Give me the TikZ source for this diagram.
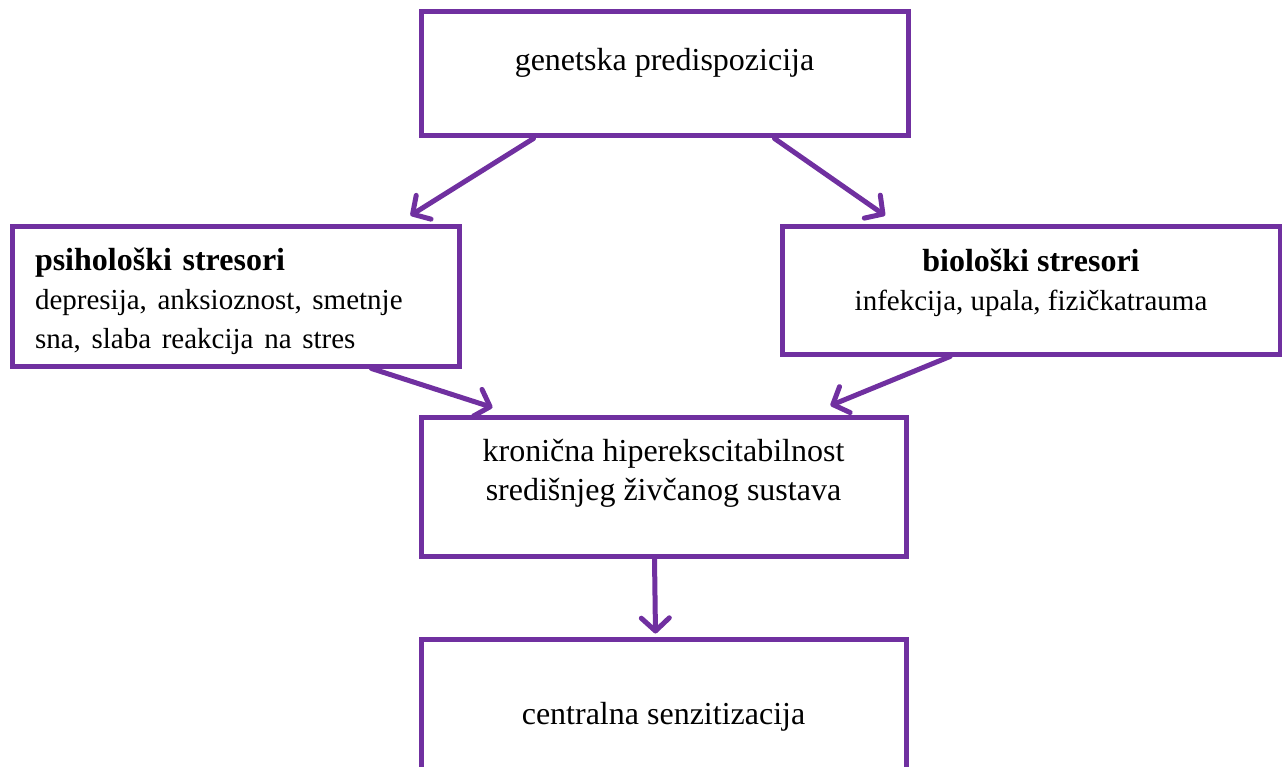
\documentclass[tikz,border=0pt]{standalone}
\usepackage{fontspec}
\setmainfont{Liberation Serif}
\usetikzlibrary{arrows.meta}
\definecolor{ljub}{HTML}{7030A0}
\newcommand{\opis}{\fontsize{29}{39}\selectfont}

\begin{document}
\begin{tikzpicture} [
                x=1pt, y=-1pt,
                box/.style={draw=ljub,line width=5pt,rectangle,inner sep=0pt,
                    font=\fontsize{32}{39}\selectfont,align=center},
                arrow/.style = {draw=ljub,line width=5pt,line cap=round,
                    -{Straight Barb[length=13pt,width=28pt,line cap=round,line join=round]}},
            ]
            \useasboundingbox (0,0) rectangle (1282,767);
            \clip (0,0) rectangle (1282,767);
            \node[box,minimum width=487pt,minimum height=124pt,text depth=30pt] (gen) at (664.5,74) {genetska predispozicija};
            \node[box,minimum width=447pt,minimum height=139pt,text width=401pt,align=left,text height=33pt] (psi) at (235.5,296.5)
                {\textbf{psihološki stresori}\\\opis depresija, anksioznost, smetnje\\\opis sna, slaba reakcija na stres};
            \node[box,minimum width=498pt,minimum height=127pt,text depth=22pt] (bio) at (1031,290.5)
                {\textbf{biološki stresori}\\\opis infekcija, upala, fizičkatrauma};
            \node[box,minimum width=485pt,minimum height=139pt,text depth=34pt] (hip) at (663.5,486.5)
                {kronična hiperekscitabilnost\\središnjeg živčanog sustava};
            \node[box,minimum width=485pt,minimum height=156pt] (sen) at (663.5,717) {centralna senzitizacija};
            \foreach \source/\sx/\dest/\dx/\gap in {
                    gen/-131/psi/175/9, gen/110/bio/-146/9,
                    psi/136/hip/-171/7, bio/-81/hip/167/9,
                    hip/-9/sen/-8/3}
                \path[arrow] ([xshift=\sx pt]\source.south) -- ([xshift=\dx pt,yshift=\gap pt]\dest.north);
        \end{tikzpicture}
\end{document}
